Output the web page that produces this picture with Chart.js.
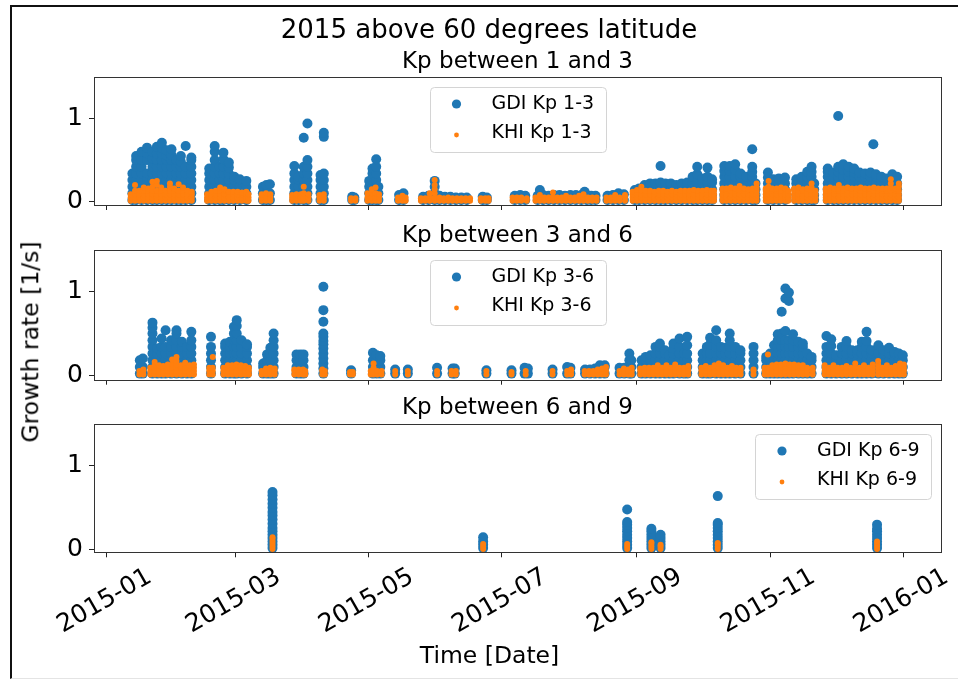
<!DOCTYPE html>
<html>
<head>
<meta charset="utf-8">
<title>2015 above 60 degrees latitude</title>
<script src="https://cdn.jsdelivr.net/npm/chart.js@4.4.1/dist/chart.umd.min.js"></script>
<style>
  html, body { margin: 0; padding: 0; background: #fff; }
  #fig { position: relative; width: 958px; height: 679px; overflow: hidden; font-family: 'DejaVu Sans', sans-serif; color: #000; }
  #frame { position: absolute; left: 10px; top: 5px; width: 960px; height: 671px; border-left: 2px solid #111; border-top: 2px solid #111; border-bottom: 1px solid #e4e4e4; }
  #fig canvas { position: absolute; left: 0; top: 0; }
  .figtext { position: absolute; white-space: nowrap; line-height: 1; transform: translateX(-50%); }
  #suptitle { left: 489px; top: 16.2px; font-size: 26px; }
  #xlabel { left: 489.5px; top: 644.4px; font-size: 23.5px; }
  #ylabel { left: 31.3px; top: 342px; font-size: 23.5px; transform: translate(-50%, -50%) rotate(-90deg); }
</style>
</head>
<body>
<div id="fig">
  <div id="frame"></div>
  <canvas id="kp13" width="958" height="679"></canvas>
  <canvas id="kp36" width="958" height="679"></canvas>
  <canvas id="kp69" width="958" height="679"></canvas>
  <div class="figtext" id="suptitle">2015 above 60 degrees latitude</div>
  <div class="figtext" id="xlabel">Time [Date]</div>
  <div class="figtext" id="ylabel">Growth rate [1/s]</div>
</div>
<script>
// each row: [day of 2015 (0 = Jan 1), growth rates measured that day...]
const gdiKp13 = [
  [11.8, 0.02, 0.1, 0.18, 0.26, 0.34],
  [13.5, 0.02, 0.1, 0.18, 0.26, 0.34, 0.42, 0.5, 0.55],
  [16, 0.02, 0.1, 0.18, 0.26, 0.34, 0.42, 0.5, 0.6],
  [18.5, 0.02, 0.1, 0.18, 0.26, 0.34, 0.5, 0.58, 0.65],
  [21, 0.02, 0.1, 0.18, 0.26, 0.34, 0.42, 0.52, 0.6],
  [23, 0.02, 0.1, 0.18, 0.26, 0.34, 0.42, 0.5, 0.58, 0.66],
  [25.3, 0.02, 0.1, 0.18, 0.26, 0.34, 0.42, 0.5, 0.58, 0.65, 0.71],
  [27.5, 0.02, 0.1, 0.18, 0.26, 0.34, 0.42, 0.5, 0.56, 0.62],
  [29.7, 0.02, 0.1, 0.18, 0.26, 0.34, 0.42, 0.5, 0.56, 0.63],
  [32, 0.02, 0.1, 0.18, 0.26, 0.34, 0.42, 0.5],
  [34, 0.02, 0.1, 0.18, 0.26, 0.34, 0.42, 0.48, 0.55],
  [36.2, 0.02, 0.1, 0.18, 0.26, 0.34, 0.42, 0.67],
  [38.8, 0.02, 0.1, 0.18, 0.26, 0.34, 0.42, 0.5, 0.53],
  [47, 0.02, 0.1, 0.18, 0.26, 0.34, 0.4],
  [49.5, 0.02, 0.1, 0.18, 0.26, 0.34, 0.42, 0.5, 0.6, 0.67],
  [51.8, 0.02, 0.1, 0.18, 0.26, 0.34, 0.42],
  [53.5, 0.02, 0.1, 0.18, 0.26, 0.34, 0.42, 0.51, 0.59],
  [56, 0.02, 0.1, 0.18, 0.26, 0.34, 0.41, 0.47],
  [58.5, 0.02, 0.1, 0.18, 0.26, 0.3],
  [61, 0.02, 0.1, 0.18, 0.27],
  [64, 0.02, 0.1, 0.18, 0.25],
  [71.6, 0.02, 0.1, 0.18],
  [73.2, 0.02, 0.1, 0.2],
  [74.8, 0.02, 0.1, 0.21],
  [86, 0.02, 0.1, 0.18, 0.26, 0.34, 0.43],
  [88, 0.02, 0.1, 0.18, 0.26, 0.3],
  [90.3, 0.02, 0.1, 0.18, 0.26, 0.34, 0.42, 0.77],
  [92, 0.02, 0.1, 0.18, 0.26, 0.34, 0.42, 0.5, 0.94],
  [98, 0.02, 0.1, 0.18, 0.26, 0.32],
  [99.5, 0.02, 0.1, 0.18, 0.26, 0.34, 0.78, 0.83],
  [112.5, 0.02, 0.06],
  [113.5, 0.02, 0.05],
  [120.3, 0.02, 0.1, 0.18, 0.25],
  [121.8, 0.02, 0.1, 0.18, 0.26, 0.34, 0.4],
  [123.5, 0.02, 0.1, 0.18, 0.26, 0.34, 0.42, 0.51],
  [124.5, 0.02, 0.1, 0.18],
  [134, 0.02, 0.08],
  [136, 0.02, 0.1],
  [145, 0.02, 0.06],
  [147.5, 0.02, 0.07],
  [150.3, 0.02, 0.1, 0.18, 0.25],
  [152.5, 0.02, 0.07],
  [155, 0.02, 0.06],
  [157.5, 0.02, 0.06],
  [160, 0.02, 0.05],
  [162.5, 0.02, 0.05],
  [165, 0.02, 0.05],
  [172.3, 0.02, 0.06],
  [174.2, 0.02, 0.05],
  [187, 0.02, 0.07],
  [189.5, 0.02, 0.08],
  [191.8, 0.02, 0.07],
  [197.5, 0.02, 0.07],
  [198.5, 0.08, 0.14],
  [200, 0.02, 0.08],
  [202.5, 0.02, 0.07],
  [205, 0.02, 0.08],
  [207.5, 0.02, 0.08],
  [210, 0.02, 0.07],
  [212.5, 0.02, 0.08],
  [215, 0.02, 0.08],
  [217.5, 0.02, 0.08],
  [219, 0.08, 0.12],
  [220, 0.02, 0.08],
  [222, 0.02, 0.07],
  [224, 0.02, 0.07],
  [229.5, 0.02, 0.07],
  [232, 0.02, 0.08],
  [234.5, 0.02, 0.1],
  [237, 0.02, 0.09],
  [242, 0.02, 0.08, 0.14],
  [244, 0.02, 0.08, 0.16],
  [246.5, 0.02, 0.08, 0.15, 0.2],
  [249, 0.02, 0.08, 0.15, 0.22],
  [251.5, 0.02, 0.08, 0.15, 0.22],
  [253.8, 0.02, 0.08, 0.15, 0.23, 0.43],
  [256, 0.02, 0.08, 0.15, 0.22],
  [258.5, 0.02, 0.08, 0.15, 0.22],
  [261, 0.02, 0.08, 0.15, 0.2],
  [263.5, 0.02, 0.08, 0.15, 0.22],
  [266, 0.02, 0.08, 0.15, 0.23],
  [268.5, 0.02, 0.08, 0.15, 0.22, 0.3],
  [270.6, 0.02, 0.08, 0.15, 0.23, 0.33, 0.42],
  [273, 0.02, 0.08, 0.15, 0.22, 0.28],
  [275.3, 0.02, 0.08, 0.15, 0.23, 0.3, 0.41],
  [277.4, 0.02, 0.08, 0.15, 0.23, 0.27],
  [283, 0.02, 0.08, 0.15, 0.22, 0.3, 0.37, 0.43],
  [285.5, 0.02, 0.08, 0.15, 0.22, 0.3, 0.37, 0.43],
  [288, 0.02, 0.08, 0.15, 0.22, 0.3, 0.38, 0.45],
  [290.5, 0.02, 0.08, 0.15, 0.22, 0.3, 0.34],
  [293, 0.02, 0.08, 0.15, 0.22, 0.3],
  [295.8, 0.02, 0.08, 0.15, 0.22, 0.3, 0.36, 0.42, 0.63],
  [297.3, 0.02, 0.08, 0.15, 0.22],
  [303, 0.02, 0.08, 0.15, 0.22, 0.29, 0.35],
  [305.5, 0.02, 0.08, 0.15, 0.22, 0.27],
  [308, 0.02, 0.08, 0.15, 0.22, 0.28],
  [310.8, 0.02, 0.08, 0.15, 0.22, 0.29],
  [316, 0.02, 0.08, 0.15, 0.22, 0.27],
  [318.5, 0.02, 0.08, 0.15, 0.22, 0.3],
  [321, 0.02, 0.08, 0.15, 0.22, 0.3, 0.36],
  [323, 0.02, 0.08, 0.15, 0.22, 0.3, 0.36, 0.42],
  [324.2, 0.02, 0.08, 0.15, 0.22],
  [330.4, 0.02, 0.08, 0.15, 0.22, 0.3, 0.36, 0.4],
  [333, 0.02, 0.08, 0.15, 0.22, 0.3, 0.35],
  [335.2, 0.02, 0.08, 0.15, 0.22, 0.3, 0.36, 0.42, 1.03],
  [337.5, 0.02, 0.08, 0.15, 0.22, 0.3, 0.38, 0.45],
  [340, 0.02, 0.08, 0.15, 0.22, 0.3, 0.36, 0.42],
  [342.5, 0.02, 0.08, 0.15, 0.22, 0.3, 0.35, 0.4],
  [345, 0.02, 0.08, 0.15, 0.22, 0.3, 0.35],
  [347.5, 0.02, 0.08, 0.15, 0.22, 0.3, 0.34],
  [350, 0.02, 0.08, 0.15, 0.22, 0.3, 0.35],
  [351.3, 0.69],
  [352.5, 0.02, 0.08, 0.15, 0.22, 0.3, 0.33],
  [355, 0.02, 0.08, 0.15, 0.22, 0.3],
  [357.5, 0.02, 0.08, 0.15, 0.22, 0.28],
  [360, 0.02, 0.08, 0.15, 0.22, 0.3, 0.33],
  [362.2, 0.02, 0.08, 0.15, 0.22, 0.3]
];

const khiKp13 = [
  [11, 0.01, 0.05, 0.09],
  [13, 0.01, 0.05, 0.09, 0.13, 0.2],
  [15, 0.01, 0.05, 0.09, 0.13],
  [17, 0.01, 0.05, 0.09, 0.13, 0.17],
  [19, 0.01, 0.05, 0.09, 0.13, 0.16],
  [21, 0.01, 0.05, 0.09, 0.13, 0.18, 0.24],
  [23, 0.01, 0.05, 0.09, 0.13, 0.2, 0.25],
  [25, 0.01, 0.05, 0.09, 0.13, 0.17],
  [27, 0.01, 0.05, 0.09, 0.13],
  [29, 0.01, 0.05, 0.09, 0.13, 0.18, 0.22],
  [31, 0.01, 0.05, 0.09, 0.13, 0.16],
  [33, 0.01, 0.05, 0.09, 0.13, 0.21],
  [35, 0.01, 0.05, 0.09, 0.13, 0.17],
  [37, 0.01, 0.05, 0.09, 0.13],
  [39, 0.01, 0.05, 0.09, 0.12],
  [46, 0.01, 0.05, 0.09],
  [48, 0.01, 0.05, 0.09, 0.12],
  [50, 0.01, 0.05, 0.09, 0.13],
  [52, 0.01, 0.05, 0.09, 0.13, 0.17],
  [54, 0.01, 0.05, 0.09, 0.13, 0.15],
  [56, 0.01, 0.05, 0.09, 0.12],
  [58, 0.01, 0.05, 0.09, 0.12],
  [60, 0.01, 0.05, 0.09, 0.12],
  [62, 0.01, 0.05, 0.09, 0.11],
  [64, 0.01, 0.05, 0.09, 0.12],
  [65, 0.01, 0.05, 0.09],
  [71, 0.01, 0.05, 0.09],
  [73, 0.01, 0.05, 0.1],
  [75, 0.01, 0.05, 0.09],
  [85, 0.01, 0.05, 0.08],
  [87, 0.01, 0.05, 0.09],
  [89, 0.01, 0.05, 0.09],
  [90.3, 0.01, 0.05, 0.1, 0.18],
  [92.5, 0.01, 0.05, 0.09],
  [97.5, 0.01, 0.05, 0.08],
  [99.5, 0.01, 0.05, 0.09],
  [112, 0.01, 0.04],
  [114, 0.01, 0.04],
  [119.5, 0.01, 0.05, 0.1],
  [121.5, 0.01, 0.05, 0.1, 0.15],
  [123.2, 0.01, 0.05, 0.1, 0.17],
  [124.8, 0.01, 0.05, 0.09],
  [133.5, 0.01, 0.05],
  [135.5, 0.01, 0.05, 0.07],
  [137, 0.01, 0.05],
  [144, 0.01, 0.04],
  [146, 0.01, 0.04],
  [148, 0.01, 0.05, 0.1],
  [150.3, 0.01, 0.05, 0.1, 0.15, 0.2, 0.26],
  [152.5, 0.01, 0.05],
  [154.5, 0.01, 0.04],
  [156.5, 0.01, 0.05],
  [158.5, 0.01, 0.04],
  [160.5, 0.01, 0.04],
  [162.5, 0.01, 0.04],
  [164.5, 0.01, 0.04],
  [166.5, 0.01, 0.04],
  [171.5, 0.01, 0.04],
  [173.5, 0.01, 0.04],
  [175, 0.01, 0.04],
  [186, 0.01, 0.05],
  [188, 0.01, 0.05],
  [190, 0.01, 0.05],
  [192.5, 0.01, 0.04],
  [196.5, 0.01, 0.05],
  [198.5, 0.01, 0.05, 0.08],
  [200.5, 0.01, 0.05],
  [202.5, 0.01, 0.05],
  [204.5, 0.01, 0.05, 0.11],
  [206.5, 0.01, 0.05],
  [208.5, 0.01, 0.05],
  [210.5, 0.01, 0.05, 0.07],
  [212.5, 0.01, 0.05],
  [214.5, 0.01, 0.05],
  [216.5, 0.01, 0.05, 0.07],
  [218.5, 0.01, 0.05, 0.09],
  [220.5, 0.01, 0.05],
  [222.5, 0.01, 0.05],
  [224.5, 0.01, 0.05],
  [229, 0.01, 0.05],
  [231, 0.01, 0.05],
  [233, 0.01, 0.05, 0.08],
  [235, 0.01, 0.05],
  [237.5, 0.01, 0.05, 0.08],
  [241, 0.01, 0.05, 0.09, 0.12],
  [243, 0.01, 0.05, 0.09, 0.14],
  [245, 0.01, 0.05, 0.09, 0.13, 0.18],
  [247, 0.01, 0.05, 0.09, 0.13],
  [249, 0.01, 0.05, 0.09, 0.13],
  [251, 0.01, 0.05, 0.09, 0.12],
  [253, 0.01, 0.05, 0.09, 0.13],
  [255, 0.01, 0.05, 0.09, 0.13],
  [257, 0.01, 0.05, 0.09, 0.12],
  [259, 0.01, 0.05, 0.09, 0.13],
  [261, 0.01, 0.05, 0.09, 0.12],
  [263, 0.01, 0.05, 0.09, 0.13],
  [265, 0.01, 0.05, 0.09, 0.13],
  [267, 0.01, 0.05, 0.09, 0.13],
  [269, 0.01, 0.05, 0.09, 0.14],
  [271, 0.01, 0.05, 0.09, 0.13],
  [273, 0.01, 0.05, 0.09, 0.13],
  [275, 0.01, 0.05, 0.09, 0.14],
  [277, 0.01, 0.05, 0.09, 0.13],
  [278.3, 0.01, 0.05, 0.09, 0.13],
  [282.2, 0.01, 0.05, 0.09, 0.13, 0.16],
  [284, 0.01, 0.05, 0.09, 0.13, 0.16],
  [286, 0.01, 0.05, 0.09, 0.13, 0.17],
  [288, 0.01, 0.05, 0.09, 0.13, 0.16],
  [290, 0.01, 0.05, 0.09, 0.13, 0.19],
  [292, 0.01, 0.05, 0.09, 0.13, 0.16],
  [294, 0.01, 0.05, 0.09, 0.13, 0.15],
  [296, 0.01, 0.05, 0.09, 0.13, 0.16],
  [297.8, 0.01, 0.05, 0.09, 0.13, 0.17, 0.22],
  [302, 0.01, 0.05, 0.09, 0.13, 0.16],
  [303.3, 0.01, 0.05, 0.09, 0.13, 0.18, 0.25],
  [305, 0.01, 0.05, 0.09, 0.13, 0.16],
  [307, 0.01, 0.05, 0.09, 0.13, 0.16],
  [309, 0.01, 0.05, 0.09, 0.13, 0.17],
  [311, 0.01, 0.05, 0.09, 0.13, 0.16],
  [312.3, 0.01, 0.05, 0.09, 0.13],
  [315, 0.01, 0.05, 0.09, 0.13, 0.16],
  [317, 0.01, 0.05, 0.09, 0.13, 0.17],
  [319, 0.01, 0.05, 0.09, 0.13, 0.15],
  [321, 0.01, 0.05, 0.09, 0.13, 0.16],
  [323, 0.01, 0.05, 0.09, 0.13, 0.17, 0.22],
  [324.8, 0.01, 0.05, 0.09, 0.13],
  [329.5, 0.01, 0.05, 0.09, 0.13, 0.16],
  [331.5, 0.01, 0.05, 0.09, 0.13, 0.17],
  [333.5, 0.01, 0.05, 0.09, 0.13, 0.16],
  [335.5, 0.01, 0.05, 0.09, 0.13, 0.16, 0.2],
  [337.5, 0.01, 0.05, 0.09, 0.13, 0.16],
  [339.5, 0.01, 0.05, 0.09, 0.13, 0.17],
  [341.5, 0.01, 0.05, 0.09, 0.13, 0.16],
  [343.5, 0.01, 0.05, 0.09, 0.13, 0.16],
  [345.5, 0.01, 0.05, 0.09, 0.13, 0.17],
  [347.5, 0.01, 0.05, 0.09, 0.13, 0.16],
  [349.5, 0.01, 0.05, 0.09, 0.13, 0.16],
  [351.5, 0.01, 0.05, 0.09, 0.13, 0.17],
  [353.5, 0.01, 0.05, 0.09, 0.13, 0.16],
  [355.5, 0.01, 0.05, 0.09, 0.13, 0.16],
  [357.5, 0.01, 0.05, 0.09, 0.13, 0.16],
  [359.3, 0.01, 0.05, 0.09, 0.13, 0.17, 0.22, 0.27],
  [361.5, 0.01, 0.05, 0.09, 0.13, 0.16],
  [363, 0.01, 0.05, 0.09, 0.13, 0.18, 0.22]
];

const gdiKp36 = [
  [15.2, 0.02, 0.1, 0.18],
  [16.6, 0.02, 0.1, 0.2],
  [21, 0.02, 0.1, 0.18, 0.26, 0.34, 0.42, 0.5, 0.57, 0.63],
  [23.2, 0.02, 0.1, 0.18, 0.26, 0.32],
  [25.2, 0.02, 0.1, 0.18, 0.26, 0.34, 0.44],
  [27, 0.02, 0.1, 0.18, 0.26, 0.34, 0.54],
  [29.5, 0.02, 0.1, 0.18, 0.26, 0.34, 0.42],
  [32, 0.02, 0.1, 0.18, 0.26, 0.34, 0.42, 0.5, 0.54],
  [34.5, 0.02, 0.1, 0.18, 0.26, 0.34, 0.4],
  [36.8, 0.02, 0.1, 0.18, 0.26, 0.34],
  [38.8, 0.02, 0.1, 0.18, 0.26, 0.34, 0.42, 0.52],
  [47.8, 0.02, 0.1, 0.18, 0.26, 0.34, 0.46],
  [54.3, 0.02, 0.1, 0.18, 0.26, 0.34, 0.38],
  [56.5, 0.02, 0.1, 0.18, 0.26, 0.34, 0.4],
  [58.3, 0.02, 0.1, 0.18, 0.26, 0.34, 0.42, 0.5, 0.58],
  [59.6, 0.02, 0.1, 0.18, 0.26, 0.34, 0.42, 0.5, 0.59, 0.66],
  [61.8, 0.02, 0.1, 0.18, 0.26, 0.34, 0.42],
  [64.3, 0.02, 0.1, 0.18, 0.26, 0.34, 0.37],
  [71.7, 0.02, 0.1, 0.14],
  [73.5, 0.02, 0.1, 0.18, 0.25],
  [75, 0.02, 0.1, 0.18, 0.26, 0.33],
  [76.5, 0.02, 0.1, 0.18, 0.26, 0.34, 0.42, 0.5],
  [87, 0.02, 0.1, 0.18, 0.25],
  [88.7, 0.02, 0.1, 0.18, 0.25],
  [90.2, 0.02, 0.1, 0.18, 0.25],
  [99.3, 0.02, 0.08, 0.14, 0.2, 0.26, 0.32, 0.37, 0.41, 0.46, 0.5, 0.64, 0.78, 1.06],
  [112, 0.02, 0.06],
  [122, 0.02, 0.1, 0.18, 0.27],
  [123.7, 0.02, 0.1, 0.18, 0.24],
  [125.4, 0.02, 0.1, 0.18, 0.23],
  [132.2, 0.02, 0.07],
  [138, 0.02, 0.07],
  [151.4, 0.02, 0.09],
  [158.5, 0.02, 0.08],
  [159.5, 0.02, 0.08],
  [174, 0.02, 0.06],
  [185.5, 0.02, 0.06],
  [191.5, 0.02, 0.09],
  [193, 0.02, 0.08],
  [204.3, 0.02, 0.07],
  [211, 0.02, 0.1],
  [212.5, 0.02, 0.09],
  [219.2, 0.02, 0.07],
  [221.5, 0.02, 0.07],
  [223.8, 0.02, 0.08],
  [226, 0.02, 0.1, 0.12],
  [228.2, 0.02, 0.1, 0.12],
  [235, 0.02, 0.09],
  [237.2, 0.02, 0.09],
  [239.5, 0.02, 0.1, 0.18, 0.26],
  [240.4, 0.02, 0.1, 0.18],
  [245.1, 0.02, 0.1, 0.18],
  [247, 0.02, 0.1, 0.18, 0.22],
  [249.2, 0.02, 0.1, 0.18, 0.24],
  [251.5, 0.02, 0.1, 0.18, 0.26, 0.34],
  [253.5, 0.02, 0.1, 0.18, 0.26, 0.34, 0.38],
  [255.8, 0.02, 0.1, 0.18, 0.26, 0.3],
  [257.8, 0.02, 0.1, 0.18, 0.24],
  [259.7, 0.02, 0.1, 0.18, 0.26, 0.32, 0.38],
  [262.5, 0.02, 0.1, 0.18, 0.26, 0.34, 0.44],
  [264.5, 0.02, 0.1, 0.18, 0.26],
  [266, 0.02, 0.1, 0.18, 0.26, 0.36, 0.46],
  [273.1, 0.02, 0.1, 0.18, 0.26],
  [275, 0.02, 0.1, 0.18, 0.26, 0.34],
  [276.5, 0.02, 0.1, 0.18, 0.26, 0.37, 0.45],
  [279.3, 0.02, 0.1, 0.18, 0.26, 0.34, 0.42, 0.54],
  [281.5, 0.02, 0.1, 0.18, 0.26, 0.34],
  [283.5, 0.02, 0.1, 0.18, 0.26, 0.33],
  [285.5, 0.02, 0.1, 0.18, 0.26, 0.34, 0.42, 0.5],
  [288, 0.02, 0.1, 0.18, 0.26, 0.34],
  [290.4, 0.02, 0.1, 0.18, 0.26, 0.3],
  [296.4, 0.02, 0.1, 0.18, 0.26, 0.34],
  [302.2, 0.02, 0.1, 0.18, 0.22],
  [304, 0.02, 0.1, 0.18, 0.26],
  [305.8, 0.02, 0.1, 0.18, 0.26, 0.36],
  [307.5, 0.02, 0.1, 0.18, 0.26, 0.34, 0.42, 0.49],
  [309.3, 0.02, 0.1, 0.18, 0.26, 0.34, 0.42, 0.5, 0.76],
  [311, 0.02, 0.1, 0.18, 0.26, 0.34, 0.42, 0.53, 0.92, 1.04],
  [312.6, 0.02, 0.1, 0.18, 0.26, 0.34, 0.42, 0.89, 0.99],
  [314.5, 0.02, 0.1, 0.18, 0.26, 0.34, 0.42, 0.49],
  [317, 0.02, 0.1, 0.18, 0.26, 0.34, 0.4],
  [319, 0.02, 0.1, 0.18, 0.26, 0.34, 0.38],
  [321, 0.02, 0.1, 0.18, 0.26],
  [323, 0.02, 0.1, 0.18, 0.22],
  [329.8, 0.02, 0.1, 0.18, 0.26, 0.34, 0.47],
  [332, 0.02, 0.1, 0.18, 0.26, 0.35, 0.43],
  [334.3, 0.02, 0.1, 0.18, 0.24],
  [336.8, 0.02, 0.1, 0.18, 0.26, 0.34],
  [339, 0.02, 0.1, 0.18, 0.26, 0.34, 0.41],
  [341.5, 0.02, 0.1, 0.18, 0.26, 0.3],
  [344, 0.02, 0.1, 0.18, 0.26, 0.3],
  [346, 0.02, 0.1, 0.18, 0.26, 0.34, 0.4],
  [348.2, 0.02, 0.1, 0.18, 0.26, 0.34, 0.41, 0.52],
  [350.5, 0.02, 0.1, 0.18, 0.26, 0.3],
  [353.6, 0.02, 0.1, 0.18, 0.26, 0.36],
  [356, 0.02, 0.1, 0.18, 0.26, 0.3],
  [358.5, 0.02, 0.1, 0.18, 0.26, 0.33],
  [361, 0.02, 0.1, 0.18, 0.26, 0.28],
  [363, 0.02, 0.1, 0.18, 0.26],
  [364.8, 0.02, 0.1, 0.18, 0.24]
];

const khiKp36 = [
  [15, 0.01, 0.05],
  [16.8, 0.01, 0.05, 0.07],
  [20, 0.01, 0.05, 0.09],
  [22, 0.01, 0.05, 0.09, 0.13, 0.16],
  [24, 0.01, 0.05, 0.09, 0.12],
  [26, 0.01, 0.05, 0.09, 0.11],
  [28, 0.01, 0.05, 0.09, 0.13],
  [30, 0.01, 0.05, 0.09, 0.13, 0.19],
  [32, 0.01, 0.05, 0.09, 0.13, 0.17, 0.22],
  [34, 0.01, 0.05, 0.09, 0.12],
  [36, 0.01, 0.05, 0.09, 0.13, 0.15],
  [38, 0.01, 0.05, 0.09, 0.12],
  [40, 0.01, 0.05, 0.09, 0.13],
  [47, 0.01, 0.05, 0.09],
  [48.6, 0.01, 0.05, 0.09, 0.22],
  [53.5, 0.01, 0.05, 0.09],
  [55.5, 0.01, 0.05, 0.09, 0.12],
  [57.5, 0.01, 0.05, 0.09, 0.12],
  [59.5, 0.01, 0.05, 0.09, 0.13],
  [61.5, 0.01, 0.05, 0.09, 0.12],
  [63.5, 0.01, 0.05, 0.09, 0.11],
  [65.2, 0.01, 0.05, 0.09],
  [71, 0.01, 0.05],
  [73, 0.01, 0.05, 0.08],
  [75, 0.01, 0.05, 0.09],
  [77, 0.01, 0.05, 0.08],
  [86, 0.01, 0.05, 0.07],
  [88, 0.01, 0.05, 0.07],
  [90, 0.01, 0.05, 0.07],
  [91, 0.01, 0.05],
  [98.8, 0.01, 0.05, 0.07],
  [100, 0.01, 0.05],
  [111.5, 0.01, 0.04],
  [112.8, 0.01, 0.04],
  [121, 0.01, 0.05],
  [122.3, 0.01, 0.05, 0.09, 0.14],
  [124, 0.01, 0.05],
  [126, 0.01, 0.05],
  [132.2, 0.01, 0.05],
  [138, 0.01, 0.05],
  [151.4, 0.01, 0.05],
  [158, 0.01, 0.05],
  [160, 0.01, 0.05],
  [174, 0.01, 0.05],
  [185.5, 0.01, 0.04],
  [192, 0.01, 0.05],
  [204.3, 0.01, 0.05],
  [211, 0.01, 0.05],
  [212.8, 0.01, 0.05, 0.07],
  [219, 0.01, 0.05],
  [221, 0.01, 0.05],
  [223, 0.01, 0.05],
  [225, 0.01, 0.05, 0.07],
  [227, 0.01, 0.05, 0.08],
  [228.8, 0.01, 0.05, 0.1],
  [235, 0.01, 0.05],
  [237, 0.01, 0.05, 0.08],
  [239, 0.01, 0.05, 0.07],
  [240.6, 0.01, 0.05, 0.09],
  [244.5, 0.01, 0.05, 0.08],
  [246.5, 0.01, 0.05, 0.09],
  [248.5, 0.01, 0.05, 0.09],
  [250.5, 0.01, 0.05, 0.09],
  [252.5, 0.01, 0.05, 0.09, 0.12],
  [254.5, 0.01, 0.05, 0.09],
  [256.5, 0.01, 0.05, 0.09, 0.12],
  [258.5, 0.01, 0.05, 0.09],
  [260.5, 0.01, 0.05, 0.09, 0.13],
  [262.5, 0.01, 0.05, 0.09],
  [264.5, 0.01, 0.05, 0.09],
  [266.5, 0.01, 0.05, 0.09, 0.11],
  [272.5, 0.01, 0.05, 0.09],
  [274.5, 0.01, 0.05, 0.09, 0.11],
  [276.5, 0.01, 0.05, 0.09],
  [278.5, 0.01, 0.05, 0.09, 0.12],
  [280.5, 0.01, 0.05, 0.09, 0.14],
  [282.5, 0.01, 0.05, 0.09, 0.12],
  [284.5, 0.01, 0.05, 0.09],
  [286.5, 0.01, 0.05, 0.09, 0.11],
  [288.5, 0.01, 0.05, 0.09],
  [290.5, 0.01, 0.05, 0.09],
  [296.4, 0.01, 0.05, 0.07],
  [301.5, 0.01, 0.05, 0.09],
  [303, 0.01, 0.05, 0.09, 0.25],
  [305, 0.01, 0.05, 0.09, 0.12],
  [307, 0.01, 0.05, 0.09, 0.13],
  [309, 0.01, 0.05, 0.09, 0.13],
  [311, 0.01, 0.05, 0.09, 0.14],
  [313, 0.01, 0.05, 0.09, 0.13],
  [315, 0.01, 0.05, 0.09, 0.13],
  [317, 0.01, 0.05, 0.09, 0.12],
  [319, 0.01, 0.05, 0.09, 0.12],
  [321, 0.01, 0.05, 0.09],
  [323.5, 0.01, 0.05, 0.09],
  [329, 0.01, 0.05, 0.09, 0.12],
  [331, 0.01, 0.05, 0.09],
  [333, 0.01, 0.05, 0.09, 0.12],
  [335, 0.01, 0.05, 0.09],
  [337, 0.01, 0.05, 0.09],
  [339, 0.01, 0.05, 0.09, 0.11],
  [341, 0.01, 0.05, 0.09],
  [343, 0.01, 0.05, 0.09, 0.14],
  [345, 0.01, 0.05, 0.09],
  [347, 0.01, 0.05, 0.09, 0.12],
  [349, 0.01, 0.05, 0.09],
  [351, 0.01, 0.05, 0.09, 0.13],
  [353.5, 0.01, 0.05, 0.09, 0.13, 0.17],
  [355.5, 0.01, 0.05, 0.09],
  [357.5, 0.01, 0.05, 0.09, 0.12],
  [359.5, 0.01, 0.05, 0.09],
  [361.5, 0.01, 0.05, 0.09, 0.11],
  [363.5, 0.01, 0.05, 0.09, 0.14],
  [365.3, 0.01, 0.05, 0.09, 0.13]
];

const gdiKp69 = [
  [76, 0.02, 0.06, 0.1, 0.14, 0.18, 0.22, 0.26, 0.31, 0.36, 0.41, 0.45, 0.5, 0.55, 0.6, 0.65, 0.69],
  [172.5, 0.02, 0.06, 0.1, 0.15],
  [238.5, 0.02, 0.06, 0.1, 0.14, 0.18, 0.22, 0.26, 0.3, 0.33, 0.48],
  [249.6, 0.02, 0.06, 0.1, 0.14, 0.18, 0.22, 0.25],
  [253.8, 0.02, 0.06, 0.1, 0.14, 0.18],
  [280, 0.02, 0.06, 0.1, 0.14, 0.18, 0.22, 0.26, 0.3, 0.32, 0.64],
  [353, 0.02, 0.06, 0.1, 0.14, 0.18, 0.22, 0.25, 0.3]
];

const khiKp69 = [
  [76, 0.01, 0.04, 0.07, 0.1, 0.13, 0.15],
  [172.5, 0.01, 0.04, 0.07],
  [238.5, 0.01, 0.04, 0.07],
  [249.6, 0.01, 0.04, 0.07, 0.09],
  [253.8, 0.01, 0.04, 0.06],
  [280, 0.01, 0.04, 0.07, 0.08],
  [353, 0.01, 0.04, 0.07, 0.1]
];

const xTickLabels = ['2015-01', '2015-03', '2015-05', '2015-07', '2015-09', '2015-11', '2016-01'];
const yTicks = [0, 1];

const FONT = "'DejaVu Sans', sans-serif";
const GDI_COLOR = '#1f77b4';
const KHI_COLOR = '#ff7f0e';

const dayOfMonthStart = s =>
  (Date.UTC(+s.slice(0, 4), +s.slice(5, 7) - 1, 1) - Date.UTC(2015, 0, 1)) / 864e5;
const xTickDays = xTickLabels.map(dayOfMonthStart);

function toPoints(rows) {
  return rows.flatMap(([day, ...vals]) => vals.map(v => ({ x: day, y: v })));
}

// box around the axes, like a matplotlib frame
const frameBox = {
  id: 'frameBox',
  afterDatasetsDraw(chart) {
    const { ctx, chartArea: a } = chart;
    ctx.save();
    ctx.strokeStyle = '#333';
    ctx.lineWidth = 1;
    ctx.strokeRect(Math.round(a.left) + 0.5, Math.round(a.top) + 0.5,
      Math.round(a.right - a.left), Math.round(a.bottom - a.top));
    ctx.restore();
  }
};

// legend box drawn inside the plot area
const kpLegend = {
  id: 'kpLegend',
  afterDraw(chart, args, opts) {
    const { ctx, chartArea: a } = chart;
    const w = 176, h = 65;
    const x = opts.align === 'right' ? a.right - 10 - w : (a.left + a.right) / 2 - w / 2;
    const y = a.top + 10;
    const markerY = [17, 48];
    const textY = [17, 46];
    const markerR = [4.6, 2.4];
    ctx.save();
    ctx.beginPath();
    ctx.roundRect(Math.round(x) + 0.5, Math.round(y) + 0.5, w, h, 4);
    ctx.fillStyle = 'rgba(255,255,255,0.8)';
    ctx.fill();
    ctx.strokeStyle = '#d4d4d4';
    ctx.lineWidth = 1;
    ctx.stroke();
    ctx.font = '19px ' + FONT;
    ctx.textBaseline = 'middle';
    chart.data.datasets.forEach((ds, i) => {
      ctx.beginPath();
      ctx.arc(x + 27, y + markerY[i], markerR[i], 0, Math.PI * 2);
      ctx.fillStyle = ds.backgroundColor;
      ctx.fill();
      ctx.fillStyle = '#000';
      ctx.fillText(ds.label, x + 62, y + textY[i]);
    });
    ctx.restore();
  }
};

// rotated month labels centred under their ticks
const dateLabels = {
  id: 'dateLabels',
  afterDraw(chart) {
    const { ctx, chartArea: a, scales: { x } } = chart;
    ctx.save();
    ctx.font = '25px ' + FONT;
    ctx.fillStyle = '#000';
    ctx.textAlign = 'center';
    ctx.textBaseline = 'middle';
    xTickDays.forEach((d, i) => {
      ctx.save();
      ctx.translate(x.getPixelForValue(d) - 2, a.bottom + 49);
      ctx.rotate(-Math.PI / 6);
      ctx.fillText(xTickLabels[i], 0, 0);
      ctx.restore();
    });
    ctx.restore();
  }
};

const panels = [
  { canvas: 'kp13', title: 'Kp between 1 and 3', gdi: gdiKp13, khi: khiKp13, range: '1-3',
    yMin: -0.04, top: 50.8, titleGap: 3.2, bottom: 468, xHeight: 6, legend: 'center' },
  { canvas: 'kp36', title: 'Kp between 3 and 6', gdi: gdiKp36, khi: khiKp36, range: '3-6',
    yMin: -0.053, top: 225, titleGap: 2, bottom: 293.3, xHeight: 6, legend: 'center' },
  { canvas: 'kp69', title: 'Kp between 6 and 9', gdi: gdiKp69, khi: khiKp69, range: '6-9',
    yMin: -0.03, top: 396.7, titleGap: 4.3, bottom: 26.7, xHeight: 100, legend: 'right' }
];

panels.forEach((p, idx) => {
  const ctx = document.getElementById(p.canvas).getContext('2d');
  const plugins = [frameBox, kpLegend];
  if (idx === panels.length - 1) plugins.push(dateLabels);

  new Chart(ctx, {
    type: 'scatter',
    data: {
      datasets: [
        {
          label: 'GDI Kp ' + p.range,
          data: toPoints(p.gdi),
          backgroundColor: GDI_COLOR,
          pointBackgroundColor: GDI_COLOR,
          pointBorderWidth: 0,
          pointRadius: 5,
          order: 2,
          clip: 0
        },
        {
          label: 'KHI Kp ' + p.range,
          data: toPoints(p.khi),
          backgroundColor: KHI_COLOR,
          pointBackgroundColor: KHI_COLOR,
          pointBorderWidth: 0,
          pointRadius: 3,
          order: 1,
          clip: 0
        }
      ]
    },
    options: {
      responsive: false,
      animation: false,
      events: [],
      devicePixelRatio: 1,
      layout: {
        autoPadding: false,
        padding: { left: 54, right: 17, top: p.top, bottom: p.bottom }
      },
      plugins: {
        legend: { display: false },
        tooltip: { enabled: false },
        title: {
          display: true,
          text: p.title,
          fullSize: false,
          color: '#000',
          font: { family: FONT, size: 23, weight: 'normal', lineHeight: 1 },
          padding: { top: 0, bottom: p.titleGap }
        },
        kpLegend: { align: p.legend }
      },
      scales: {
        x: {
          type: 'linear',
          min: -5.8,
          max: 382.3,
          afterBuildTicks: s => { s.ticks = xTickDays.map(v => ({ value: v })); },
          afterFit: s => { s.height = p.xHeight; },
          border: { display: false },
          grid: { drawOnChartArea: false, drawTicks: true, tickLength: 5, color: '#222' },
          ticks: { display: false }
        },
        y: {
          type: 'linear',
          min: p.yMin,
          max: 1.5,
          afterBuildTicks: s => { s.ticks = yTicks.map(v => ({ value: v })); },
          afterFit: s => { s.width = 40; },
          border: { display: false },
          grid: { drawOnChartArea: false, drawTicks: true, tickLength: 5, color: '#222' },
          ticks: {
            color: '#000',
            padding: 6,
            font: { family: FONT, size: 25 },
            callback: v => String(v)
          }
        }
      }
    },
    plugins: plugins
  });
});
</script>
</body>
</html>
